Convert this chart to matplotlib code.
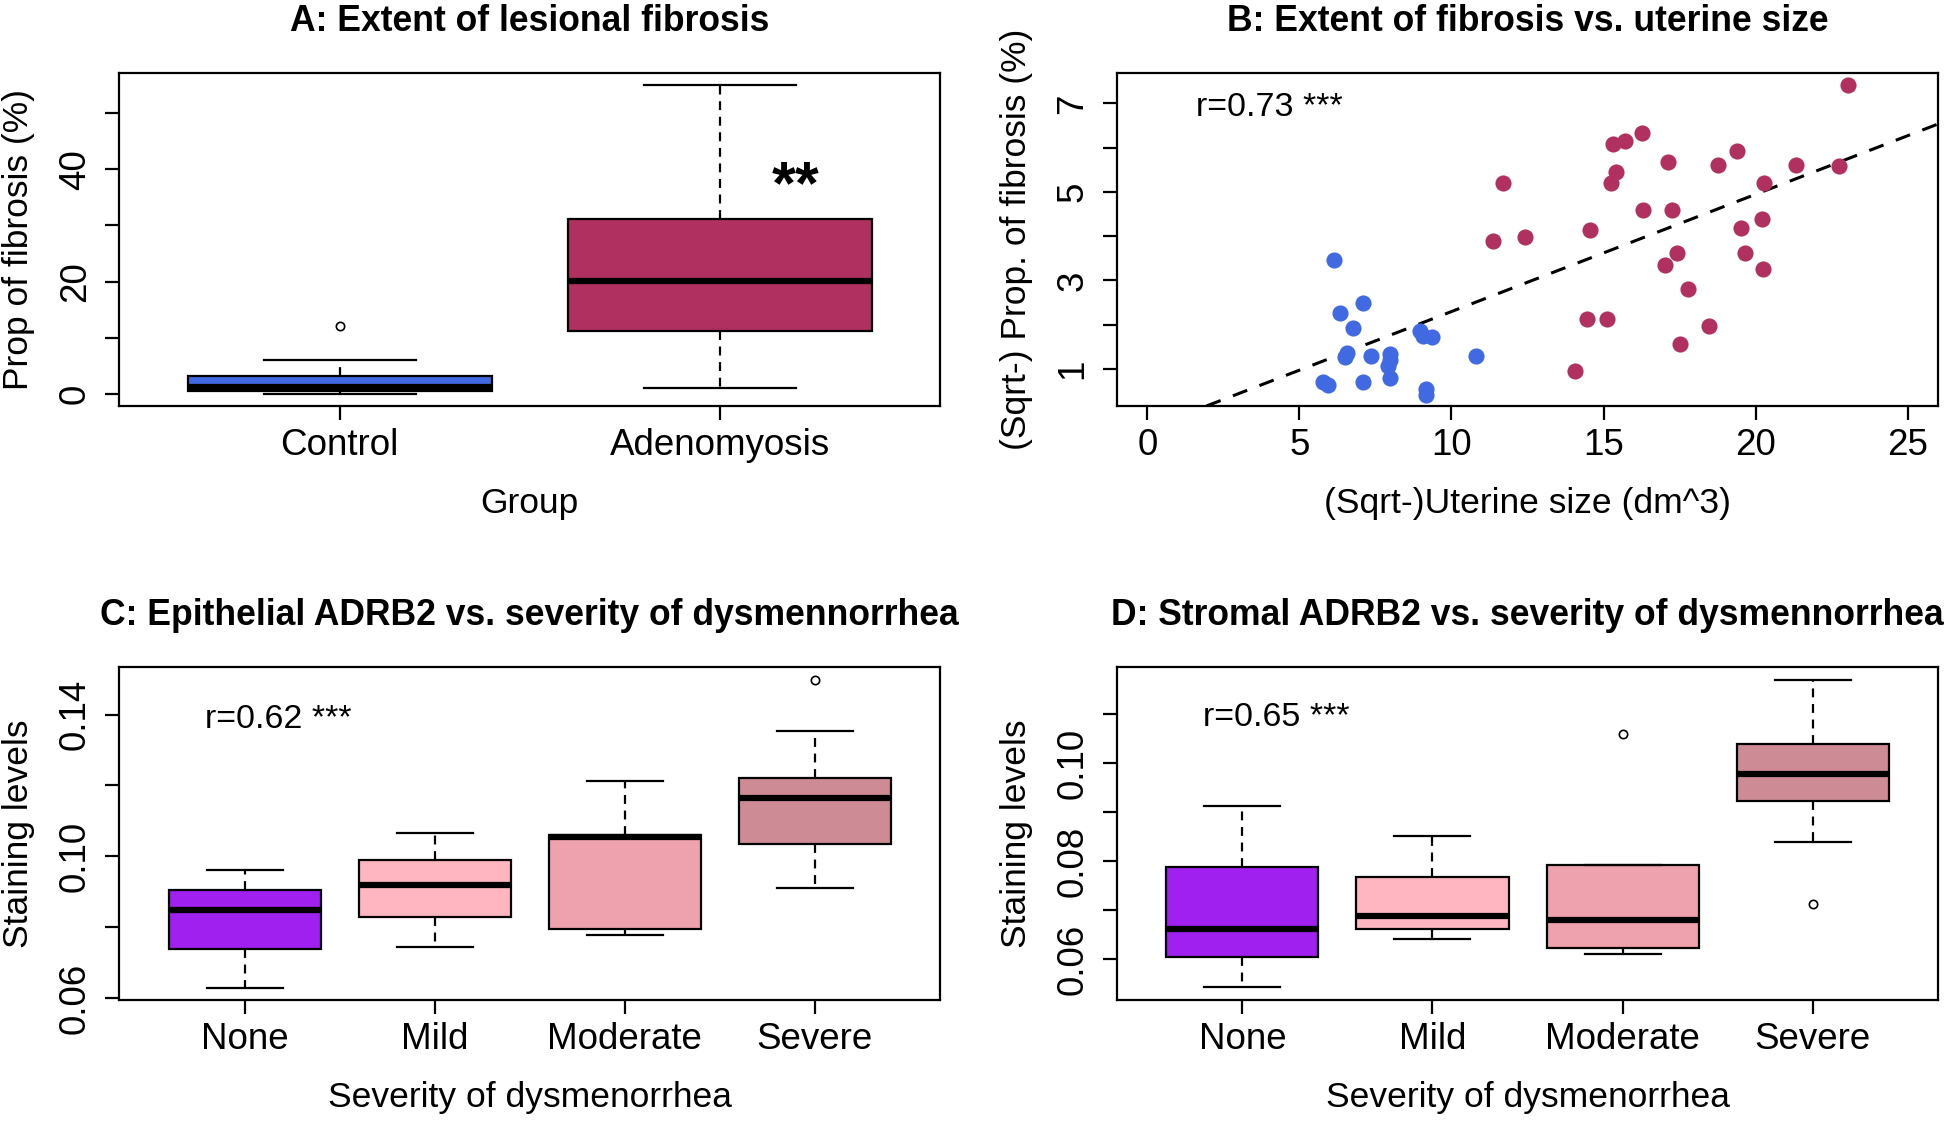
import numpy as np
import matplotlib.pyplot as plt

plt.rcParams['font.family'] = ['Liberation Sans', 'DejaVu Sans']

# ---- data ----
# A: boxplot of fibrosis proportion
groups_a = ["Control", "Adenomyosis"]
a_whislo = [0.0, 0.96]
a_q1 = [0.5, 11.1]
a_med = [1.2, 20.1]
a_q3 = [3.2, 31.1]
a_whishi = [6.0, 55.0]
a_fliers = [[12.1], []]
a_colors = ["#4169E1", "#B03060"]

# B: scatter of sqrt fibrosis vs sqrt uterine size
ctrl_x = [6.15, 6.34, 7.10, 6.75, 6.56, 6.51, 7.34, 5.77, 5.95, 7.10,
          7.98, 7.98, 7.92, 7.98, 8.96, 9.07, 9.35, 9.15, 9.15, 10.79]
ctrl_y = [3.46, 2.26, 2.50, 1.93, 1.35, 1.26, 1.28, 0.71, 0.64, 0.71,
          1.34, 1.20, 1.07, 0.79, 1.86, 1.74, 1.71, 0.54, 0.42, 1.29]
aden_x = [23.05, 16.25, 15.72, 15.30, 19.40, 17.11, 18.77, 21.34, 22.75, 15.42,
          15.26, 11.68, 20.28, 16.31, 17.25, 20.22, 19.53, 14.54, 11.38, 12.43,
          17.41, 19.64, 17.01, 20.23, 17.77, 14.44, 15.13, 18.47, 17.53, 14.07]
aden_y = [7.42, 6.33, 6.16, 6.08, 5.93, 5.68, 5.60, 5.60, 5.59, 5.44,
          5.20, 5.20, 5.20, 4.59, 4.59, 4.39, 4.19, 4.14, 3.90, 3.99,
          3.63, 3.63, 3.34, 3.26, 2.81, 2.13, 2.13, 1.97, 1.56, 0.96]
fit_intercept = -0.354
fit_slope = 0.265

# C and D: staining levels by severity
severity = ["None", "Mild", "Moderate", "Severe"]
sev_colors = ["#A020F0", "#FFB6C1", "#EEA2AD", "#CD8C95"]

c_whislo = [0.0629, 0.0745, 0.0779, 0.0911]
c_q1 = [0.0740, 0.0830, 0.0795, 0.1035]
c_med = [0.0850, 0.0920, 0.1056, 0.1166]
c_q3 = [0.0904, 0.0991, 0.1060, 0.1222]
c_whishi = [0.0961, 0.1067, 0.1212, 0.1353]
c_fliers = [[], [], [], [0.1496]]

d_whislo = [0.0543, 0.0640, 0.0611, 0.0839]
d_q1 = [0.0604, 0.0661, 0.0623, 0.0922]
d_med = [0.0662, 0.0687, 0.0680, 0.0977]
d_q3 = [0.0788, 0.0767, 0.0792, 0.1039]
d_whishi = [0.0912, 0.0851, 0.0792, 0.1170]
d_fliers = [[], [], [0.1060], [0.0713]]

TICK_FS = 26.5
LAB_FS = 25.5
TITLE_FS = 25.6


def style(ax):
    for s in ax.spines.values():
        s.set_linewidth(1.6)
    ax.tick_params(axis="both", direction="out", length=10, width=1.6,
                   labelsize=TICK_FS)
    ax.tick_params(axis="y", pad=9)
    ax.tick_params(axis="x", pad=6)


def labels(ax, xlab, ylab, title):
    ax.set_title(title, fontsize=TITLE_FS, fontweight="bold", pad=30)
    ax.set_xlabel(xlab, fontsize=LAB_FS, va="center")
    ax.set_ylabel(ylab, fontsize=LAB_FS, va="center", ha="center")
    ax.xaxis.set_label_coords(0.5, -0.292)
    ax.yaxis.set_label_coords(-0.122, 0.5)


def rot_yticks(ax, ticks, shown, fmt):
    ax.set_yticks(ticks)
    ax.set_yticklabels([fmt.format(t) if t in shown else "" for t in ticks])
    plt.setp(ax.get_yticklabels(), rotation=90, va="center", ha="right")


def boxes(ax, names, lo, q1, med, q3, hi, fl, colors):
    stats = []
    for i in range(len(names)):
        stats.append(dict(label=names[i], whislo=lo[i], q1=q1[i], med=med[i],
                          q3=q3[i], whishi=hi[i], fliers=fl[i]))
    bp = ax.bxp(stats, positions=range(1, len(names) + 1), widths=0.8,
                capwidths=0.4, patch_artist=True,
                boxprops=dict(edgecolor="black", linewidth=1.6),
                medianprops=dict(color="black", linewidth=4.5),
                whiskerprops=dict(color="black", linewidth=1.6,
                                  linestyle=(0, (4, 3))),
                capprops=dict(color="black", linewidth=1.6),
                flierprops=dict(marker="o", markerfacecolor="none",
                                markeredgecolor="black", markersize=6,
                                markeredgewidth=1.2))
    for b, c in zip(bp["boxes"], colors):
        b.set_facecolor(c)
    n = len(names)
    ax.set_xlim(0.5 - 0.04 * n, n + 0.5 + 0.04 * n)


fig = plt.figure(figsize=(19.46, 11.21), dpi=100)
axA = fig.add_axes([0.0612, 0.6378, 0.4219, 0.2971])
axB = fig.add_axes([0.5740, 0.6378, 0.4219, 0.2971])
axC = fig.add_axes([0.0612, 0.1079, 0.4219, 0.2971])
axD = fig.add_axes([0.5740, 0.1079, 0.4219, 0.2971])

# ---- A ----
boxes(axA, groups_a, a_whislo, a_q1, a_med, a_q3, a_whishi, a_fliers, a_colors)
axA.set_ylim(-2.2, 57.2)
style(axA)
rot_yticks(axA, [0, 10, 20, 30, 40, 50], [0, 20, 40], "{:d}")
labels(axA, "Group", "Prop of fibrosis (%)", "A: Extent of lesional fibrosis")
axA.text(2.2, 36.8, "**", fontsize=44, fontweight="bold", ha="center",
         va="center")

# ---- B ----
axB.scatter(ctrl_x, ctrl_y, s=135, color="#4169E1", zorder=3, linewidths=0)
axB.scatter(aden_x, aden_y, s=135, color="#B03060", zorder=3, linewidths=0)
axB.axline((0, fit_intercept), slope=fit_slope, color="black", linewidth=2.2,
           linestyle=(0, (5, 4.3)), zorder=2)
axB.set_xlim(-1.0, 26.0)
axB.set_ylim(0.16, 7.69)
axB.set_xticks([0, 5, 10, 15, 20, 25])
style(axB)
rot_yticks(axB, [1, 2, 3, 4, 5, 6, 7], [1, 3, 5, 7], "{:d}")
labels(axB, "(Sqrt-)Uterine size (dm^3)", "(Sqrt-) Prop. of fibrosis (%)",
       "B: Extent of fibrosis vs. uterine size")
axB.text(1.59, 6.92, "r=0.73 ***", fontsize=24.5, ha="left", va="center")

# ---- C ----
boxes(axC, severity, c_whislo, c_q1, c_med, c_q3, c_whishi, c_fliers, sev_colors)
axC.set_ylim(0.0595, 0.1534)
style(axC)
rot_yticks(axC, [0.06, 0.08, 0.10, 0.12, 0.14], [0.06, 0.10, 0.14], "{:.2f}")
labels(axC, "Severity of dysmenorrhea", "Staining levels",
       "C: Epithelial ADRB2 vs. severity of dysmennorrhea")
axC.text(0.79, 0.1386, "r=0.62 ***", fontsize=24.5, ha="left", va="center")

# ---- D ----
boxes(axD, severity, d_whislo, d_q1, d_med, d_q3, d_whishi, d_fliers, sev_colors)
axD.set_ylim(0.0516, 0.1196)
style(axD)
rot_yticks(axD, [0.06, 0.07, 0.08, 0.09, 0.10, 0.11], [0.06, 0.08, 0.10],
           "{:.2f}")
labels(axD, "Severity of dysmenorrhea", "Staining levels",
       "D: Stromal ADRB2 vs. severity of dysmennorrhea")
axD.text(0.79, 0.1092, "r=0.65 ***", fontsize=24.5, ha="left", va="center")

fig.savefig("out.png", dpi=100)
